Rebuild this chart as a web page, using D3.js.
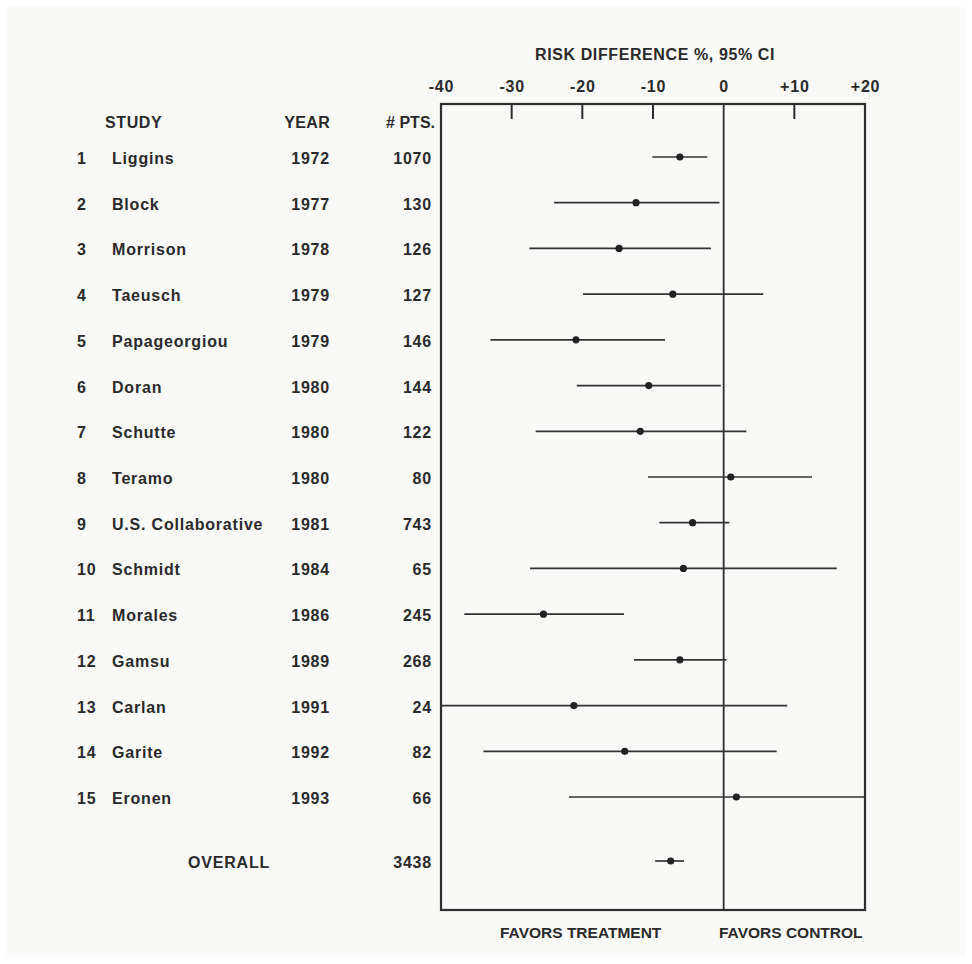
<!DOCTYPE html>
<html>
<head>
<meta charset="utf-8">
<script src="https://cdn.jsdelivr.net/npm/d3@7"></script>
<style>
  html, body { margin: 0; padding: 0; background: #ffffff; }
  svg { display: block; }
  text { font-family: "Liberation Sans", Arial, Helvetica, sans-serif; fill: #2a2a2a; }
</style>
</head>
<body>
<svg id="chart" width="972" height="964"></svg>
<script>
// Antenatal corticosteroid trials: risk difference (%) with 95% confidence interval
const studyNames = ["Liggins", "Block", "Morrison", "Taeusch", "Papageorgiou", "Doran",
  "Schutte", "Teramo", "U.S. Collaborative", "Schmidt", "Morales", "Gamsu",
  "Carlan", "Garite", "Eronen"];
const studyYears = [1972, 1977, 1978, 1979, 1979, 1980, 1980, 1980, 1981, 1984, 1986, 1989, 1991, 1992, 1993];
const studyPts   = [1070, 130, 126, 127, 146, 144, 122, 80, 743, 65, 245, 268, 24, 82, 66];
const riskDiff   = [-6.2, -12.4, -14.8, -7.2, -20.9, -10.6, -11.8, 1.0, -4.4, -5.7, -25.5, -6.2, -21.2, -14.0, 1.8];
const ciLow      = [-10.1, -24.0, -27.5, -19.9, -33.0, -20.8, -26.6, -10.7, -9.1, -27.4, -36.7, -12.7, -40, -34.0, -21.9];
const ciHigh     = [-2.3, -0.6, -1.8, 5.6, -8.3, -0.4, 3.2, 12.5, 0.8, 16.0, -14.1, 0.4, 9.0, 7.5, 20];

const overallLabel = "OVERALL";
const overallPts = 3438;
const overallDiff = -7.5;
const overallLow = -9.7;
const overallHigh = -5.6;

const axisTicks = [-40, -30, -20, -10, 0, 10, 20];
const tickText = ["-40", "-30", "-20", "-10", "0", "+10", "+20"];
const axisTitle = "RISK DIFFERENCE %, 95% CI";
const headers = { study: "STUDY", year: "YEAR", pts: "# PTS." };
const footLeft = "FAVORS TREATMENT";
const footRight = "FAVORS CONTROL";

const svg = d3.select("#chart");

// scanned paper background
svg.append("rect").attr("x", 7).attr("y", 7).attr("width", 958).attr("height", 950)
  .attr("fill", "#f9f9f8");

const x = d3.scaleLinear().domain([-40, 20]).range([441, 865]);
// study rows are evenly spaced; overall row sits a little further below
const y = d3.scaleLinear().domain([1, 15]).range([157, 797]);
const overallRow = 16.4;

const boxTop = 104, boxBottom = 910;
const ink = "#2e2e2e";

// frame of the plot area
svg.append("rect")
  .attr("x", x(-40)).attr("y", boxTop)
  .attr("width", x(20) - x(-40)).attr("height", boxBottom - boxTop)
  .attr("fill", "none").attr("stroke", ink).attr("stroke-width", 2.2);

// line of no difference
svg.append("line")
  .attr("x1", x(0)).attr("x2", x(0)).attr("y1", boxTop).attr("y2", boxBottom)
  .attr("stroke", ink).attr("stroke-width", 1.8);

// top axis: labels above the frame, short ticks pointing inward
const axis = d3.axisTop(x).tickValues(axisTicks)
  .tickFormat((d, i) => tickText[i]).tickSize(0).tickPadding(0);
const axisG = svg.append("g").attr("transform", `translate(0, ${boxTop})`).call(axis);
axisG.select(".domain").remove();
axisG.selectAll("text")
  .attr("y", -12).attr("dy", 0)
  .style("font-size", "16px").style("font-weight", "bold")
  .style("letter-spacing", "0.8px").attr("fill", "#2a2a2a");

svg.append("g").selectAll("line")
  .data(axisTicks.filter(d => d > -40 && d < 20 && d !== 0))
  .join("line")
  .attr("x1", d => x(d)).attr("x2", d => x(d))
  .attr("y1", boxTop).attr("y2", boxTop + 15)
  .attr("stroke", ink).attr("stroke-width", 2);

svg.append("text")
  .attr("x", 655).attr("y", 60)
  .attr("text-anchor", "middle")
  .style("font-size", "16px").style("font-weight", "bold").style("letter-spacing", "0.6px")
  .text(axisTitle);

// table headers
const headG = svg.append("g").style("font-size", "16px").style("font-weight", "bold");
headG.append("text").attr("x", 105).attr("y", 128).style("letter-spacing", "0.6px").text(headers.study);
headG.append("text").attr("x", 330).attr("y", 128).attr("text-anchor", "end").style("letter-spacing", "0.3px").text(headers.year);
headG.append("text").attr("x", 435).attr("y", 128).attr("text-anchor", "end").style("letter-spacing", "0px").text(headers.pts);

// table rows
const rows = studyNames.map((name, i) => ({
  idx: i + 1, name, year: studyYears[i], pts: studyPts[i],
  est: riskDiff[i], lo: ciLow[i], hi: ciHigh[i]
}));

const rowG = svg.append("g").selectAll("g").data(rows).join("g")
  .attr("transform", d => `translate(0, ${y(d.idx) + 7})`)
  .style("font-size", "16px").style("font-weight", "bold").style("letter-spacing", "0.8px");

rowG.append("text").attr("x", 77).text(d => d.idx);
rowG.append("text").attr("x", 112).text(d => d.name);
rowG.append("text").attr("x", 330).attr("text-anchor", "end").text(d => d.year);
rowG.append("text").attr("x", 432).attr("text-anchor", "end").text(d => d.pts);

const ovG = svg.append("g")
  .attr("transform", `translate(0, ${y(overallRow) + 7})`)
  .style("font-size", "16px").style("font-weight", "bold").style("letter-spacing", "0.8px");
ovG.append("text").attr("x", 188).text(overallLabel);
ovG.append("text").attr("x", 432).attr("text-anchor", "end").text(overallPts);

// confidence intervals and point estimates
const marks = rows.map(d => ({ row: d.idx, est: d.est, lo: d.lo, hi: d.hi }))
  .concat([{ row: overallRow, est: overallDiff, lo: overallLow, hi: overallHigh }]);

const markG = svg.append("g");
markG.selectAll("line").data(marks).join("line")
  .attr("x1", d => x(d.lo)).attr("x2", d => x(d.hi))
  .attr("y1", d => y(d.row)).attr("y2", d => y(d.row))
  .attr("stroke", "#333").attr("stroke-width", 1.7);
markG.selectAll("circle").data(marks).join("circle")
  .attr("cx", d => x(d.est)).attr("cy", d => y(d.row)).attr("r", 3.6)
  .attr("fill", "#222");

// direction captions under the frame
const footG = svg.append("g").style("font-size", "15.5px").style("font-weight", "bold");
footG.append("text").attr("x", 500).attr("y", 938).text(footLeft);
footG.append("text").attr("x", 719).attr("y", 938).text(footRight);
</script>
</body>
</html>
